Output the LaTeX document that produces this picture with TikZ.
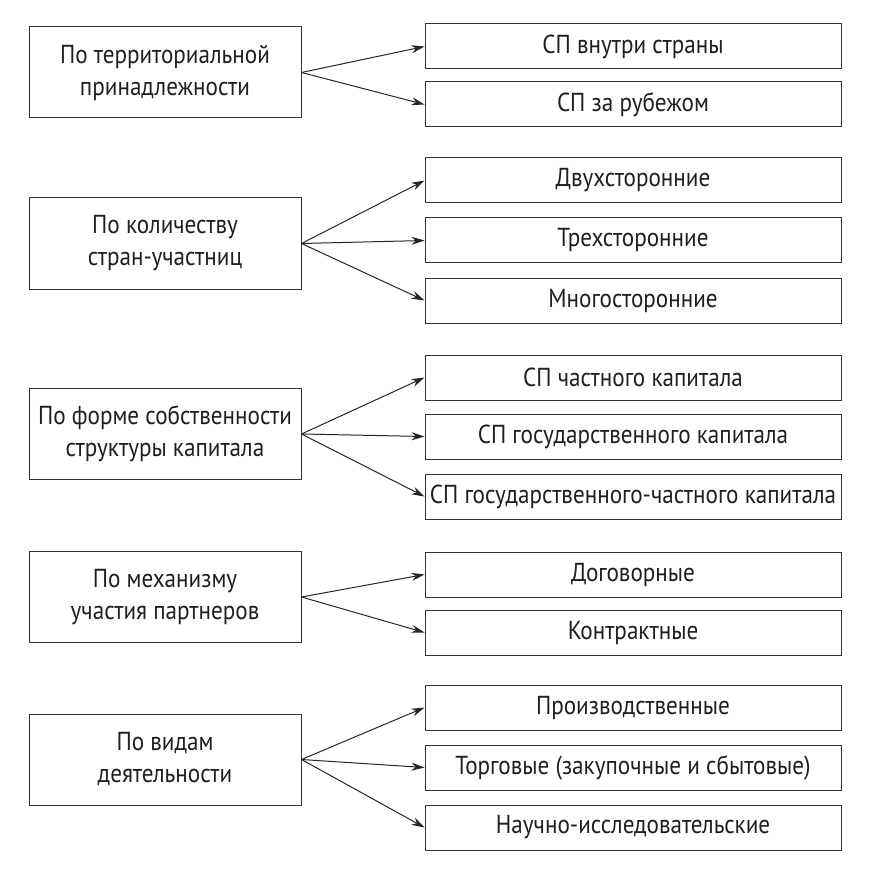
\documentclass[tikz,border=0pt]{standalone}
\usepackage{fontspec}
\setmainfont[FakeStretch=0.89]{PT Sans}
\usetikzlibrary{arrows.meta}

\tikzset{
  lbox/.style={draw=black!80, line width=1pt, minimum width=272pt, minimum height=91pt,
    inner sep=0pt, align=center, text=black!88, font=\fontsize{26}{32}\selectfont},
  rbox/.style={draw=black!80, line width=1pt, minimum width=416pt, minimum height=45pt,
    inner sep=0pt, text=black!88, font=\fontsize{26}{32}\selectfont},
  arr/.style={-{Stealth[length=13pt,width=8pt]}, line width=1pt, black!85}
}

\begin{document}
\begin{tikzpicture}[x=1pt,y=-1pt]
\useasboundingbox (0,0) rectangle (870,874);

% Territorial
\node[lbox] (terr) at (165,72.5) {По территориальной\\принадлежности};
\node[rbox] (inside) at (633,46.5) {СП внутри страны};
\node[rbox] (abroad) at (633,104.5) {СП за рубежом};
\draw[arr] (terr.east) -- (inside.west);
\draw[arr] (terr.east) -- (abroad.west);

% Number of countries
\node[lbox] (count) at (165,243.5) {По количеству\\стран-участниц};
\node[rbox] (two) at (633,180.5) {Двухсторонние};
\node[rbox] (three) at (633,240.5) {Трехсторонние};
\node[rbox] (many) at (633,300.5) {Многосторонние};
\draw[arr] (count.east) -- (two.west);
\draw[arr] (count.east) -- (three.west);
\draw[arr] (count.east) -- (many.west);

% Ownership
\node[lbox] (own) at (165,434) {По форме собственности\\структуры капитала};
\node[rbox] (priv) at (633,377.5) {СП частного капитала};
\node[rbox] (state) at (633,436.5) {СП государственного капитала};
\node[rbox] (mixed) at (633,496.5) {СП государственного-частного капитала};
\draw[arr] (own.east) -- (priv.west);
\draw[arr] (own.east) -- (state.west);
\draw[arr] (own.east) -- (mixed.west);

% Mechanism
\node[lbox] (mech) at (165,597) {По механизму\\участия партнеров};
\node[rbox] (treaty) at (633,574.5) {Договорные};
\node[rbox] (contract) at (633,632.5) {Контрактные};
\draw[arr] (mech.east) -- (treaty.west);
\draw[arr] (mech.east) -- (contract.west);

% Activity
\node[lbox] (act) at (165,759.5) {По видам\\деятельности};
\node[rbox] (prod) at (633,707.5) {Производственные};
\node[rbox] (trade) at (633,767.5) {Торговые (закупочные и сбытовые)};
\node[rbox] (research) at (633,827.5) {Научно-исследовательские};
\draw[arr] (act.east) -- (prod.west);
\draw[arr] (act.east) -- (trade.west);
\draw[arr] (act.east) -- (research.west);
\end{tikzpicture}
\end{document}
